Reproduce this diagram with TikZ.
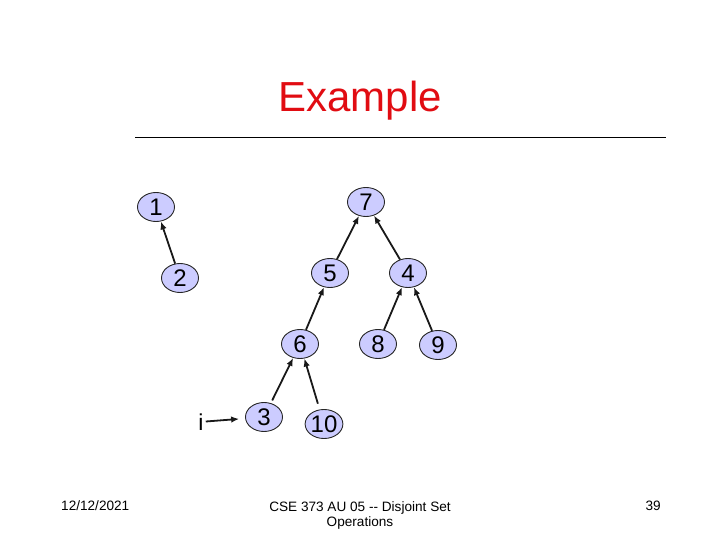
\documentclass[tikz,border=0pt]{standalone}
\usepackage{fontspec}
\setmainfont{Liberation Sans}
\newfontfamily\plainfont[Ligatures=TeXOff]{Liberation Sans}
\usetikzlibrary{shapes.geometric,arrows.meta}
\definecolor{titlered}{RGB}{225,12,18}
\definecolor{nodefill}{RGB}{204,204,255}
\begin{document}
\begin{tikzpicture}[x=1pt,y=-1pt,
  setnode/.style={ellipse,draw=black!85,line width=0.9pt,fill=nodefill,
    minimum width=37pt,minimum height=29pt,inner sep=0pt,
    font=\fontsize{24}{24}\selectfont},
  parent/.style={line width=1.8pt,draw=black!90,-{Latex[length=8pt,width=6.5pt]}},
  foot/.style={font=\plainfont\fontsize{13.6}{15}\selectfont,inner sep=0pt}]
\useasboundingbox (0,0) rectangle (720,540);
% title
\node[anchor=base,inner sep=0pt,text=titlered,font=\fontsize{42}{42}\selectfont] (title) at (360,111.5) {Example};
\coordinate (rl) at (135,138);
\coordinate (rr) at (666,138);
\draw[line width=1pt] (rl) -- (rr);
% nodes
\node[setnode] (n1) at (156,207) {1};
\node[setnode] (n7) at (366,202) {7};
\node[setnode] (n2) at (180,278) {2};
\node[setnode] (n5) at (330,273) {5};
\node[setnode] (n4) at (408,273) {4};
\node[setnode] (n6) at (300,344) {6};
\node[setnode] (n8) at (378,344) {8};
\node[setnode] (n9) at (438,345) {9};
\node[setnode] (n3) at (264,417) {3};
\node[setnode] (n10) at (324,424) {10};
\node[anchor=base,inner sep=0pt,font=\fontsize{23}{23}\selectfont] (ii) at (201,430) {i};
% connectors
\draw[parent] (n2) -- (n1);
\draw[parent] (n5) -- (n7);
\draw[parent] (n4) -- (n7);
\draw[parent] (n6) -- (n5);
\draw[parent] (n8) -- (n4);
\draw[parent] (n9) -- (n4);
\draw[parent,shorten <=3pt] (n3) -- (n6);
\draw[parent,shorten <=6pt] (n10) -- (n6);
\draw[parent,shorten <=2pt,shorten >=6pt] (ii.east) -- (n3);
% footer
\node[foot,anchor=base west] (date) at (61,510) {12/12/2021};
\node[foot,anchor=base,align=center] (course) at (360,526) {CSE 373 AU 05 -- Disjoint Set\\Operations};
\node[foot,anchor=base east] (page) at (661,510) {39};
\end{tikzpicture}
\end{document}
